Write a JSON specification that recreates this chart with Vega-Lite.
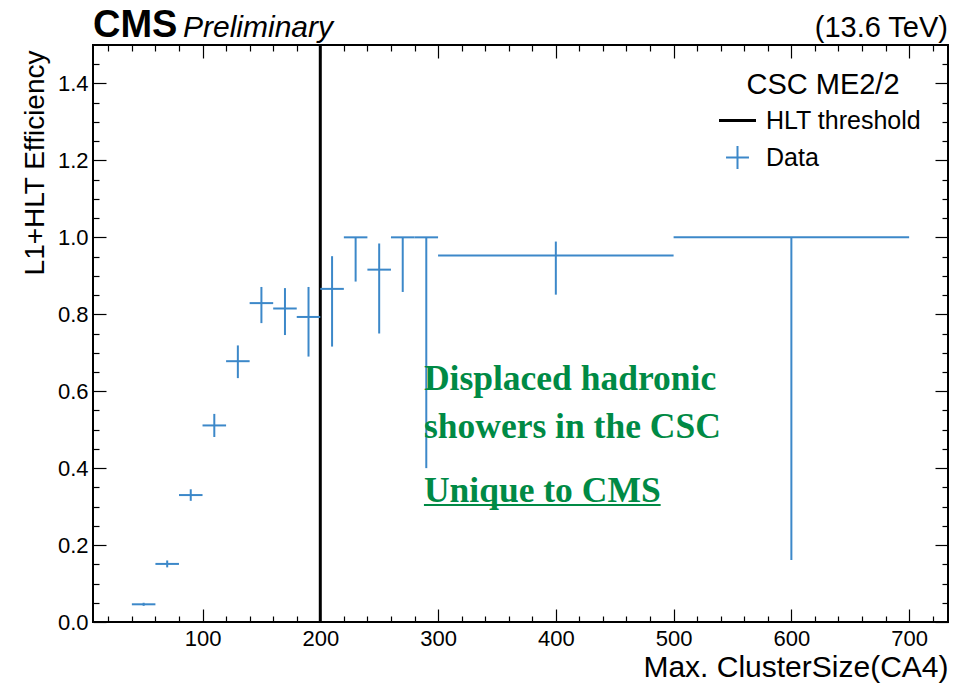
{
  "$schema": "https://vega.github.io/schema/vega-lite/v6.json",
  "width": 855,
  "height": 577,
  "autosize": {"type": "none"},
  "padding": {"left": 93, "top": 45, "right": 12, "bottom": 63},
  "background": "white",
  "datasets": {
    "bins": [
      {"lo": 40, "hi": 60, "c": 50, "eff": 0.046, "ylo": 0.042, "yhi": 0.050},
      {"lo": 60, "hi": 80, "c": 70, "eff": 0.151, "ylo": 0.142, "yhi": 0.160},
      {"lo": 80, "hi": 100, "c": 90, "eff": 0.330, "ylo": 0.315, "yhi": 0.345},
      {"lo": 100, "hi": 120, "c": 110, "eff": 0.511, "ylo": 0.481, "yhi": 0.541},
      {"lo": 120, "hi": 140, "c": 130, "eff": 0.678, "ylo": 0.634, "yhi": 0.719},
      {"lo": 140, "hi": 160, "c": 150, "eff": 0.829, "ylo": 0.777, "yhi": 0.871},
      {"lo": 160, "hi": 180, "c": 170, "eff": 0.815, "ylo": 0.746, "yhi": 0.868},
      {"lo": 180, "hi": 200, "c": 190, "eff": 0.793, "ylo": 0.690, "yhi": 0.871},
      {"lo": 200, "hi": 220, "c": 210, "eff": 0.866, "ylo": 0.716, "yhi": 0.951},
      {"lo": 220, "hi": 240, "c": 230, "eff": 1.0, "ylo": 0.885, "yhi": 1.0},
      {"lo": 240, "hi": 260, "c": 250, "eff": 0.916, "ylo": 0.750, "yhi": 0.984},
      {"lo": 260, "hi": 280, "c": 270, "eff": 1.0, "ylo": 0.858, "yhi": 1.0},
      {"lo": 280, "hi": 300, "c": 290, "eff": 1.0, "ylo": 0.400, "yhi": 1.0},
      {"lo": 300, "hi": 500, "c": 400, "eff": 0.953, "ylo": 0.851, "yhi": 0.989},
      {"lo": 500, "hi": 700, "c": 600, "eff": 1.0, "ylo": 0.161, "yhi": 1.0}
    ]
  },
  "resolve": {"axis": {"x": "independent", "y": "independent"}},
  "config": {
    "view": {"stroke": "black", "strokeWidth": 2},
    "font": "Liberation Sans",
    "axis": {"grid": false, "domain": false, "tickColor": "black", "tickWidth": 1.2, "labelColor": "black", "titleColor": "black", "labelFont": "Liberation Sans", "titleFont": "Liberation Sans", "titleFontWeight": "normal"}
  },
  "layer": [
    {
      "data": {"values": [{}]},
      "mark": {"type": "rule", "strokeWidth": 3},
      "encoding": {
        "x": {"datum": 200, "type": "quantitative", "scale": {"domain": [7, 733], "nice": false, "zero": false}, "axis": null},
        "color": {
          "datum": "HLT threshold",
          "type": "nominal",
          "scale": {"domain": ["HLT threshold", "Data"], "range": ["black", "#3c88c9"]},
          "legend": {
            "title": "CSC ME2/2",
            "orient": "top-right",
            "offset": 26,
            "titleFontSize": 29,
            "titleFont": "Liberation Sans",
            "titleFontWeight": "normal",
            "titleColor": "black",
            "titleAnchor": "middle",
            "titlePadding": 8,
            "labelFontSize": 25,
            "labelFont": "Liberation Sans",
            "labelColor": "black",
            "labelOffset": 16,
            "symbolSize": 1369,
            "symbolType": "M-1,0H1",
            "rowPadding": 8,
            "encode": {
              "symbols": {
                "update": {
                  "shape": {"signal": "datum.value === 'Data' ? 'M-0.62,0H0.62M0,-0.62V0.62' : 'M-1,0H1'"},
                  "strokeWidth": {"signal": "datum.value === 'Data' ? 2 : 3"},
                  "fill": {"value": "transparent"}
                }
              }
            }
          }
        }
      }
    },
    {
      "data": {"name": "bins"},
      "mark": {"type": "rule", "strokeWidth": 2},
      "encoding": {
        "x": {"field": "lo", "type": "quantitative", "scale": {"domain": [7, 733], "nice": false, "zero": false},
          "axis": {"orient": "bottom", "values": [100, 200, 300, 400, 500, 600, 700], "format": "d", "tickSize": -13, "labelFontSize": 22, "labelPadding": 19, "title": "Max. ClusterSize(CA4)", "titleFontSize": 30, "titleAnchor": "end", "titlePadding": 3}},
        "x2": {"field": "hi"},
        "y": {"field": "eff", "type": "quantitative", "scale": {"domain": [0, 1.5], "nice": false, "zero": false},
          "axis": {"orient": "left", "values": [0, 0.2, 0.4, 0.6, 0.8, 1.0, 1.2, 1.4], "format": ".1f", "tickSize": -13, "labelFontSize": 22, "labelPadding": 18, "title": "L1+HLT Efficiency", "titleFontSize": 28, "titleAnchor": "end", "titlePadding": 8, "titleY": 5}},
        "color": {"datum": "Data", "type": "nominal"}
      }
    },
    {
      "data": {"name": "bins"},
      "mark": {"type": "rule", "strokeWidth": 2},
      "encoding": {
        "x": {"field": "c", "type": "quantitative", "scale": {"domain": [7, 733], "nice": false, "zero": false},
          "axis": {"orient": "bottom", "values": [20, 40, 60, 80, 120, 140, 160, 180, 220, 240, 260, 280, 320, 340, 360, 380, 420, 440, 460, 480, 520, 540, 560, 580, 620, 640, 660, 680, 720], "tickSize": -6, "labels": false, "title": null}},
        "y": {"field": "ylo", "type": "quantitative", "scale": {"domain": [0, 1.5], "nice": false, "zero": false},
          "axis": {"orient": "left", "values": [0.05, 0.1, 0.15, 0.25, 0.3, 0.35, 0.45, 0.5, 0.55, 0.65, 0.7, 0.75, 0.85, 0.9, 0.95, 1.05, 1.1, 1.15, 1.25, 1.3, 1.35, 1.45], "tickSize": -6, "labels": false, "title": null}},
        "y2": {"field": "yhi"},
        "color": {"datum": "Data", "type": "nominal"}
      }
    },
    {
      "data": {"values": [{}]},
      "mark": {"type": "text", "text": "Displaced hadronic", "align": "left", "baseline": "alphabetic", "font": "Liberation Serif", "fontWeight": "bold", "fontSize": 35.5, "color": "#008a45"},
      "encoding": {
        "x": {"datum": 288, "type": "quantitative", "scale": {"domain": [7, 733], "nice": false, "zero": false},
          "axis": {"orient": "top", "values": [100, 200, 300, 400, 500, 600, 700], "tickSize": -13, "labels": false, "title": null}},
        "y": {"datum": 0.604, "type": "quantitative", "scale": {"domain": [0, 1.5], "nice": false, "zero": false},
          "axis": {"orient": "right", "values": [0, 0.2, 0.4, 0.6, 0.8, 1.0, 1.2, 1.4], "tickSize": -13, "labels": false, "title": null}}
      }
    },
    {
      "data": {"values": [{}]},
      "mark": {"type": "text", "text": "showers in the CSC", "align": "left", "baseline": "alphabetic", "font": "Liberation Serif", "fontWeight": "bold", "fontSize": 35.5, "color": "#008a45"},
      "encoding": {
        "x": {"datum": 288, "type": "quantitative", "scale": {"domain": [7, 733], "nice": false, "zero": false},
          "axis": {"orient": "top", "values": [20, 40, 60, 80, 120, 140, 160, 180, 220, 240, 260, 280, 320, 340, 360, 380, 420, 440, 460, 480, 520, 540, 560, 580, 620, 640, 660, 680, 720], "tickSize": -6, "labels": false, "title": null}},
        "y": {"datum": 0.479, "type": "quantitative", "scale": {"domain": [0, 1.5], "nice": false, "zero": false},
          "axis": {"orient": "right", "values": [0.05, 0.1, 0.15, 0.25, 0.3, 0.35, 0.45, 0.5, 0.55, 0.65, 0.7, 0.75, 0.85, 0.9, 0.95, 1.05, 1.1, 1.15, 1.25, 1.3, 1.35, 1.45], "tickSize": -6, "labels": false, "title": null}}
      }
    },
    {
      "data": {"values": [{}]},
      "mark": {"type": "text", "text": "Unique to CMS", "align": "left", "baseline": "alphabetic", "font": "Liberation Serif", "fontWeight": "bold", "fontSize": 35.5, "color": "#008a45"},
      "encoding": {
        "x": {"datum": 288, "type": "quantitative", "axis": null},
        "y": {"datum": 0.312, "type": "quantitative", "axis": null}
      }
    },
    {
      "data": {"values": [{}]},
      "mark": {"type": "rule", "strokeWidth": 2, "color": "#008a45"},
      "encoding": {
        "x": {"datum": 288, "type": "quantitative", "axis": null},
        "x2": {"datum": 489},
        "y": {"datum": 0.304, "type": "quantitative", "axis": null}
      }
    },
    {
      "data": {"values": [{}]},
      "mark": {"type": "text", "text": "CMS", "align": "left", "baseline": "alphabetic", "font": "Liberation Sans", "fontWeight": "bold", "fontSize": 38, "color": "black"},
      "encoding": {
        "x": {"datum": 7, "type": "quantitative", "axis": null},
        "y": {"datum": 1.521, "type": "quantitative", "axis": null}
      }
    },
    {
      "data": {"values": [{}]},
      "mark": {"type": "text", "text": "Preliminary", "align": "left", "baseline": "alphabetic", "font": "Liberation Sans", "fontStyle": "italic", "fontSize": 30, "color": "black"},
      "encoding": {
        "x": {"datum": 83.4, "type": "quantitative", "axis": null},
        "y": {"datum": 1.521, "type": "quantitative", "axis": null}
      }
    },
    {
      "data": {"values": [{}]},
      "mark": {"type": "text", "text": "(13.6 TeV)", "align": "right", "baseline": "alphabetic", "font": "Liberation Sans", "fontSize": 29, "color": "black"},
      "encoding": {
        "x": {"datum": 733, "type": "quantitative", "axis": null},
        "y": {"datum": 1.521, "type": "quantitative", "axis": null}
      }
    }
  ]
}
